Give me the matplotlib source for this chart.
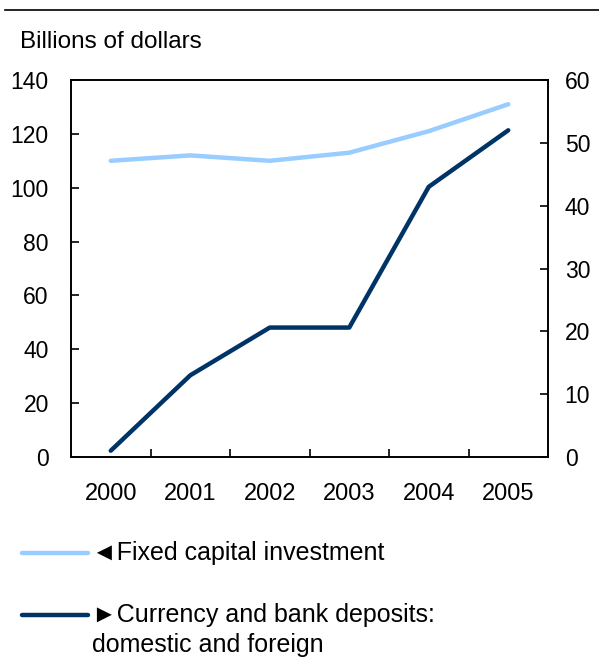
import numpy as np
import matplotlib.pyplot as plt
from matplotlib.lines import Line2D

plt.rcParams["font.family"] = ["Liberation Sans", "DejaVu Sans"]

years = ["2000", "2001", "2002", "2003", "2004", "2005"]
fixed_capital = [110, 112, 110, 113, 121, 131]   # left axis
deposits = [1, 13, 20.6, 20.6, 43, 52]           # right axis

LIGHT = "#99CCFF"
DARK = "#003366"

fig = plt.figure(figsize=(5.99, 6.66), dpi=100)
ax = fig.add_axes([71 / 599, 1 - 457 / 666, 477 / 599, 377 / 666])
ax2 = ax.twinx()

x = np.arange(len(years))
ax.plot(x, fixed_capital, color=LIGHT, lw=3.2, solid_capstyle="round")
ax2.plot(x, deposits, color=DARK, lw=3.2, solid_capstyle="round")

ax.set_xlim(-0.5, len(years) - 0.5)
ax.set_ylim(0, 140)
ax2.set_ylim(0, 60)
ax.set_yticks(range(0, 141, 20))
ax2.set_yticks(range(0, 61, 10))
ax.set_xticks(x[:-1] + 0.5)
ax.set_xticklabels([])
ax.set_xticks(x, years, minor=True)
ax.tick_params(axis="x", which="major", direction="in", length=6, width=1.2)
ax.tick_params(axis="x", which="minor", length=0, pad=19, labelsize=17)
ax.tick_params(axis="y", direction="in", length=6, width=1.2, labelsize=16.5, pad=16)
ax2.tick_params(axis="y", direction="in", length=6, width=1.2, labelsize=16.5, pad=12)
for a in (ax, ax2):
    for s in a.spines.values():
        s.set_linewidth(1.2)

fig.text(20 / 599, 1 - 42 / 666, "Billions of dollars", fontsize=17.5, va="center")
fig.add_artist(Line2D([5 / 599, 1], [1 - 10 / 666] * 2, color="black", lw=1.2))

# legend
fig.add_artist(Line2D([22 / 599, 88 / 599], [1 - 553 / 666] * 2, color=LIGHT, lw=3.2,
                      solid_capstyle="round"))
fig.text(92 / 599, 1 - 553 / 666, "\u25c4Fixed capital investment", fontsize=18, va="center")
fig.add_artist(Line2D([22 / 599, 88 / 599], [1 - 615 / 666] * 2, color=DARK, lw=3.2,
                      solid_capstyle="round"))
fig.text(92 / 599, 1 - 615 / 666, "\u25baCurrency and bank deposits:", fontsize=18, va="center")
fig.text(92 / 599, 1 - 645 / 666, "domestic and foreign", fontsize=18, va="center")

fig.savefig("out.png", dpi=100)
